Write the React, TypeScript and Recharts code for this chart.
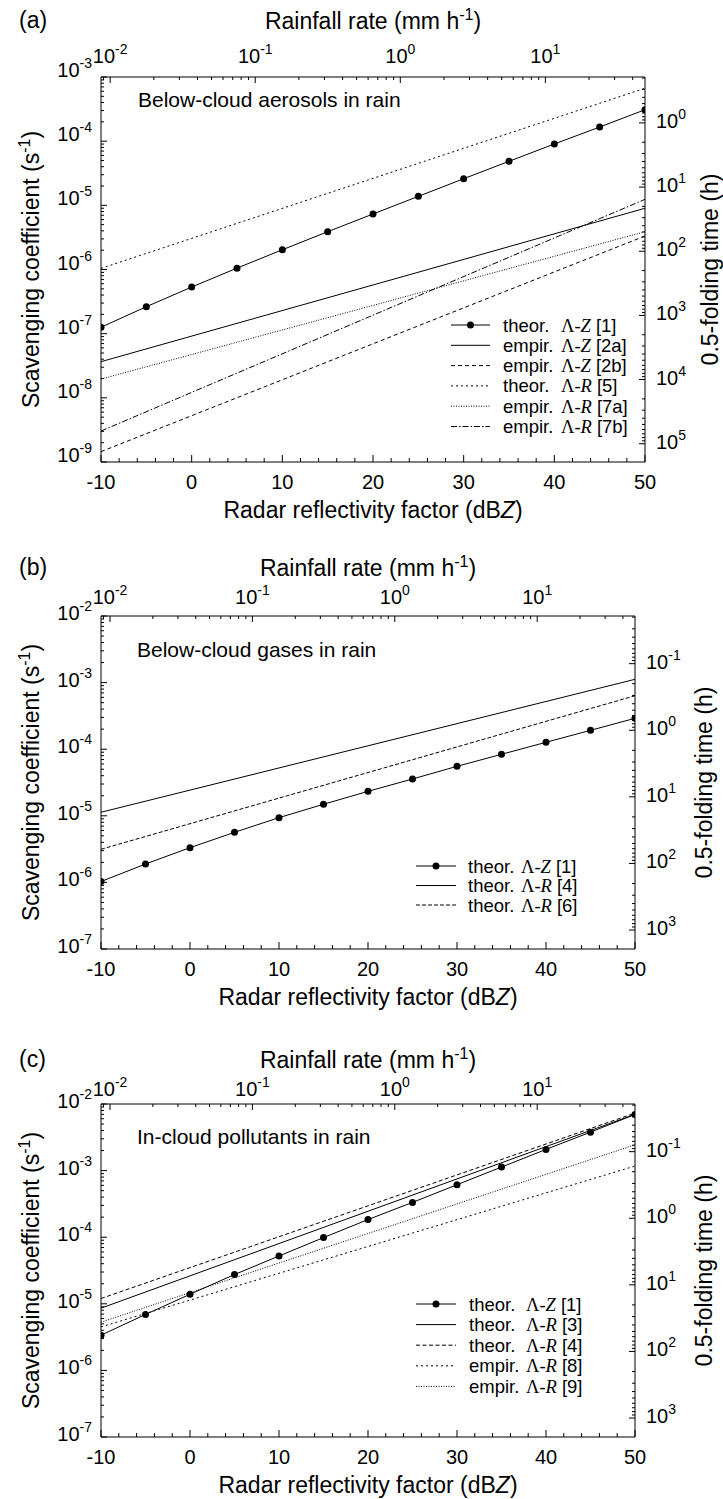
import { LineChart, Line, XAxis, YAxis, Legend } from 'recharts';

const SANS = '"Liberation Sans", Arial, Helvetica, sans-serif';
const SERIF = '"Liberation Serif", "Times New Roman", serif';

// radar reflectivity (dBZ) where the theoretical curves are marked, and line end points
const dbzMarks = [-10, -5, 0, 5, 10, 15, 20, 25, 30, 35, 40, 45, 50];
const dbzEnds = [-10, 50];

// (a) below-cloud aerosols in rain, scavenging coefficient (1/s)
const aTheorZ1 = [1.26e-7, 2.63e-7, 5.33e-7, 1.05e-6, 2.03e-6, 3.88e-6, 7.33e-6, 1.38e-5, 2.6e-5, 4.85e-5, 9.04e-5, 1.66e-4, 3.09e-4];
const aEmpirZ2a = [3.66e-8, 9.0e-6];
const aEmpirZ2b = [1.45e-9, 3.33e-6];
const aTheorR5 = [1.04e-6, 6.67e-4];
const aEmpirR7a = [1.96e-8, 3.88e-6];
const aEmpirR7b = [3.04e-9, 1.24e-5];

// (b) below-cloud gases in rain
const bTheorZ1 = [1.03e-6, 1.89e-6, 3.32e-6, 5.65e-6, 9.38e-6, 1.49e-5, 2.33e-5, 3.57e-5, 5.53e-5, 8.38e-5, 1.27e-4, 1.92e-4, 2.91e-4];
const bTheorR4 = [1.13e-5, 1.12e-3];
const bTheorR6 = [3.14e-6, 6.35e-4];

// (c) in-cloud pollutants in rain
const cTheorZ1 = [3.38e-6, 6.92e-6, 1.39e-5, 2.75e-5, 5.22e-5, 9.86e-5, 1.84e-4, 3.33e-4, 6.14e-4, 1.13e-3, 2.08e-3, 3.78e-3, 6.97e-3];
const cTheorR3 = [8.6e-6, 7.0e-3];
const cTheorR4 = [1.2e-5, 7.3e-3];
const cEmpirR8 = [4.5e-6, 1.17e-3];
const cEmpirR9 = [5.3e-6, 2.44e-3];

// bottom axis ticks, labelled every 10 dBZ
const dbzTicks = [-10, -8, -6, -4, -2, 0, 2, 4, 6, 8, 10, 12, 14, 16, 18, 20, 22, 24, 26, 28, 30, 32, 34, 36, 38, 40, 42, 44, 46, 48, 50];

// Marshall-Palmer Z = 200 R^1.6 for the rainfall axis, 0.5-folding time = ln2 / Lambda
const rainToDbz = (r: number) => 10 * Math.log10(200 * Math.pow(r, 1.6));
const dbzToRain = (d: number) => Math.pow(Math.pow(10, d / 10) / 200, 1 / 1.6);
const foldToRate = (h: number) => Math.LN2 / (h * 3600);

const logTicks = (lo: number, hi: number) => {
  const out: number[] = [];
  for (let e = Math.floor(Math.log10(lo)) - 1; e <= Math.ceil(Math.log10(hi)); e++) {
    for (let m = 1; m < 10; m++) {
      const v = m * Math.pow(10, e);
      if (v >= lo * 0.9999 && v <= hi * 1.0001) out.push(v);
    }
  }
  return out;
};
const isDecade = (v: number) => Math.abs(Math.log10(v) - Math.round(Math.log10(v))) < 1e-6;

type Series = { kind: string; rel: string; ref: string; xs: number[]; ys: number[]; dash?: string; marker?: boolean };
type Panel = {
  tag: string; note: string; top: number; height: number;
  plotTop: number; plotBottom: number; plotRight: number; yDomain: [number, number];
  tagY: number; titleY: number; topLabelGap: number; noteX: number; noteY: number; leftDy: number; rightTitleX: number;
  legend: { left: number; top: number; pitch: number; len: number; textX: number; lam: number };
  series: Series[];
};

const panels: Panel[] = [
  {
    tag: '(a)', note: 'Below-cloud aerosols in rain', top: 0, height: 530,
    plotTop: 77, plotBottom: 462, plotRight: 645, yDomain: [1e-9, 1e-3],
    tagY: 28, titleY: 29, topLabelGap: 14, noteX: 138, noteY: 107, leftDy: -7, rightTitleX: 718,
    legend: { left: 451, top: 315, pitch: 20.3, len: 39, textX: 52, lam: 58 },
    series: [
      { kind: 'theor.', rel: 'Z', ref: '[1]', xs: dbzMarks, ys: aTheorZ1, marker: true },
      { kind: 'empir.', rel: 'Z', ref: '[2a]', xs: dbzEnds, ys: aEmpirZ2a },
      { kind: 'empir.', rel: 'Z', ref: '[2b]', xs: dbzEnds, ys: aEmpirZ2b, dash: '4 3' },
      { kind: 'theor.', rel: 'R', ref: '[5]', xs: dbzEnds, ys: aTheorR5, dash: '2 3' },
      { kind: 'empir.', rel: 'R', ref: '[7a]', xs: dbzEnds, ys: aEmpirR7a, dash: '1 1.5' },
      { kind: 'empir.', rel: 'R', ref: '[7b]', xs: dbzEnds, ys: aEmpirR7b, dash: '6 2 1.5 2' },
    ],
  },
  {
    tag: '(b)', note: 'Below-cloud gases in rain', top: 530, height: 480,
    plotTop: 86, plotBottom: 419, plotRight: 635, yDomain: [1e-7, 1e-2],
    tagY: 45, titleY: 46, topLabelGap: 12, noteX: 137, noteY: 127, leftDy: -3, rightTitleX: 712,
    legend: { left: 416, top: 326, pitch: 19.5, len: 40, textX: 52, lam: 53 },
    series: [
      { kind: 'theor.', rel: 'Z', ref: '[1]', xs: dbzMarks, ys: bTheorZ1, marker: true },
      { kind: 'theor.', rel: 'R', ref: '[4]', xs: dbzEnds, ys: bTheorR4 },
      { kind: 'theor.', rel: 'R', ref: '[6]', xs: dbzEnds, ys: bTheorR6, dash: '4 2' },
    ],
  },
  {
    tag: '(c)', note: 'In-cloud pollutants in rain', top: 1010, height: 489,
    plotTop: 94, plotBottom: 427, plotRight: 635, yDomain: [1e-7, 1e-2],
    tagY: 57, titleY: 58, topLabelGap: 8, noteX: 137, noteY: 134, leftDy: -3, rightTitleX: 712,
    legend: { left: 416, top: 284, pitch: 20.6, len: 40, textX: 53, lam: 57 },
    series: [
      { kind: 'theor.', rel: 'Z', ref: '[1]', xs: dbzMarks, ys: cTheorZ1, marker: true },
      { kind: 'theor.', rel: 'R', ref: '[3]', xs: dbzEnds, ys: cTheorR3 },
      { kind: 'theor.', rel: 'R', ref: '[4]', xs: dbzEnds, ys: cTheorR4, dash: '4 2.5' },
      { kind: 'empir.', rel: 'R', ref: '[8]', xs: dbzEnds, ys: cEmpirR8, dash: '2 3' },
      { kind: 'empir.', rel: 'R', ref: '[9]', xs: dbzEnds, ys: cEmpirR9, dash: '1 1.5' },
    ],
  },
];

const W = 723;
const PL = 101;

const Pow10 = ({ x, y, exp, anchor }: { x: number; y: number; exp: number; anchor: 'start' | 'middle' | 'end' }) => (
  <text x={x} y={y} textAnchor={anchor} fontFamily={SANS} fontSize={20} fill="#000">
    10<tspan dy={-9} fontSize={14}>{exp}</tspan>
  </text>
);

function Chart({ p }: { p: Panel }) {
  const [yMin, yMax] = p.yDomain;
  const leftTicks = logTicks(yMin, yMax);
  const rightTicks = logTicks(foldToRate(yMax), foldToRate(yMin)).map(foldToRate);
  const topTicks = logTicks(dbzToRain(-10), dbzToRain(50)).map(rainToDbz);
  const cx = (PL + p.plotRight) / 2;
  const cy = (p.plotTop + p.plotBottom) / 2;
  const lineData = (s: Series) => s.xs.map((x, j) => ({ x, v: s.ys[j] }));

  const leftTick = (t: any) => {
    const v = t.payload.value;
    const major = isDecade(v);
    return (
      <g>
        <line x1={PL} x2={PL + (major ? 6 : 3)} y1={t.y} y2={t.y} stroke="#000" />
        {major && <Pow10 x={PL - 9} y={t.y + 7 + p.leftDy} exp={Math.round(Math.log10(v))} anchor="end" />}
      </g>
    );
  };
  const rightTick = (t: any) => {
    const h = foldToRate(t.payload.value);
    const major = isDecade(h);
    return (
      <g>
        <line x1={p.plotRight - (major ? 6 : 3)} x2={p.plotRight} y1={t.y} y2={t.y} stroke="#000" />
        {major && <Pow10 x={p.plotRight + 11} y={t.y + 5} exp={Math.round(Math.log10(h))} anchor="start" />}
      </g>
    );
  };
  const topTick = (t: any) => {
    const r = dbzToRain(t.payload.value);
    const major = isDecade(r);
    return (
      <g>
        <line x1={t.x} x2={t.x} y1={p.plotTop} y2={p.plotTop + (major ? 6 : 3)} stroke="#000" />
        {major && <Pow10 x={t.x} y={p.plotTop - p.topLabelGap} exp={Math.round(Math.log10(r))} anchor="middle" />}
      </g>
    );
  };
  const bottomTick = (t: any) => {
    const v = t.payload.value;
    const major = v % 10 === 0;
    return (
      <g>
        <line x1={t.x} x2={t.x} y1={p.plotBottom} y2={p.plotBottom - (major ? 7 : 4)} stroke="#000" />
        {major && (
          <text x={t.x} y={p.plotBottom + 27} textAnchor="middle" fontFamily={SANS} fontSize={20} fill="#000">
            {v}
          </text>
        )}
      </g>
    );
  };

  const lg = p.legend;
  const legendContent = () => (
    <svg width={250} height={p.series.length * lg.pitch + 8} style={{ display: 'block', overflow: 'visible' }}>
      {p.series.map((s, i) => {
        const ry = 10 + i * lg.pitch;
        return (
          <g key={i}>
            <line x1={0} x2={lg.len} y1={ry} y2={ry} stroke="#000" strokeDasharray={s.dash} />
            {s.marker && <circle cx={lg.len / 2} cy={ry} r={3.5} fill="#000" />}
            <text x={lg.textX} y={ry + 6.5} fontFamily={SANS} fontSize={18.5} fill="#000">
              {s.kind}
              <tspan x={lg.textX + lg.lam} fontFamily={SERIF}>Λ-</tspan>
              <tspan fontFamily={SERIF} fontStyle="italic">{s.rel}</tspan>
              <tspan dx={5}>{s.ref}</tspan>
            </text>
          </g>
        );
      })}
    </svg>
  );

  return (
    <div style={{ position: 'absolute', left: 0, top: p.top }}>
      <LineChart width={W} height={p.height} margin={{ top: 0, right: 0, bottom: 0, left: 0 }}>
        <XAxis xAxisId="b" dataKey="x" type="number" domain={[-10, 50]} ticks={dbzTicks} interval={0}
          orientation="bottom" height={p.height - p.plotBottom} allowDataOverflow
          axisLine={{ stroke: '#000' }} tickLine={false} tick={bottomTick} />
        <XAxis xAxisId="t" dataKey="x" type="number" domain={[-10, 50]} ticks={topTicks} interval={0}
          orientation="top" height={p.plotTop} allowDataOverflow
          axisLine={{ stroke: '#000' }} tickLine={false} tick={topTick} />
        <YAxis yAxisId="l" type="number" scale="log" domain={p.yDomain} ticks={leftTicks} interval={0}
          width={PL} allowDataOverflow axisLine={{ stroke: '#000' }} tickLine={false} tick={leftTick} />
        <YAxis yAxisId="r" orientation="right" type="number" scale="log" domain={p.yDomain} ticks={rightTicks} interval={0}
          width={W - p.plotRight} allowDataOverflow axisLine={{ stroke: '#000' }} tickLine={false} tick={rightTick} />
        {/* invisible copy bound to the rainfall / folding-time axes so they get a scale */}
        <Line xAxisId="t" yAxisId="r" data={lineData(p.series[0])} dataKey="v" stroke="none" dot={false}
          activeDot={false} legendType="none" isAnimationActive={false} />
        {p.series.map((s, i) => (
          <Line key={i} xAxisId="b" yAxisId="l" data={lineData(s)} dataKey="v"
            type="linear" stroke="#000" strokeWidth={1} strokeDasharray={s.dash}
            dot={s.marker ? { r: 3.5, fill: '#000', stroke: 'none' } : false} activeDot={false}
            isAnimationActive={false} />
        ))}
        <Legend layout="vertical" align="center" verticalAlign="middle" content={legendContent}
          wrapperStyle={{ left: lg.left, top: lg.top, width: 250 }} />
        <g fontFamily={SANS} fill="#000">
          <text x={19} y={p.tagY} fontSize={23}>{p.tag}</text>
          <text x={cx} y={p.titleY} fontSize={23} textAnchor="middle">
            Rainfall rate (mm h<tspan dy={-9} fontSize={16}>-1</tspan><tspan dy={9}>)</tspan>
          </text>
          <text x={p.noteX} y={p.noteY} fontSize={21}>{p.note}</text>
          <text x={cx} y={p.plotBottom + 56} fontSize={23} textAnchor="middle">
            Radar reflectivity factor (dB<tspan fontStyle="italic">Z</tspan>)
          </text>
          <text x={39} y={cy} fontSize={23} textAnchor="middle" transform={`rotate(-90 39 ${cy})`}>
            Scavenging coefficient (s<tspan dy={-9} fontSize={16}>-1</tspan><tspan dy={9}>)</tspan>
          </text>
          <text x={p.rightTitleX} y={cy} fontSize={23} textAnchor="middle" transform={`rotate(-90 ${p.rightTitleX} ${cy})`}>
            0.5-folding time (h)
          </text>
        </g>
      </LineChart>
    </div>
  );
}

export default function App() {
  return (
    <div style={{ position: 'absolute', left: 0, top: 0, width: W, height: 1499, background: '#fff' }}>
      {panels.map((p) => (
        <Chart key={p.tag} p={p} />
      ))}
    </div>
  );
}
